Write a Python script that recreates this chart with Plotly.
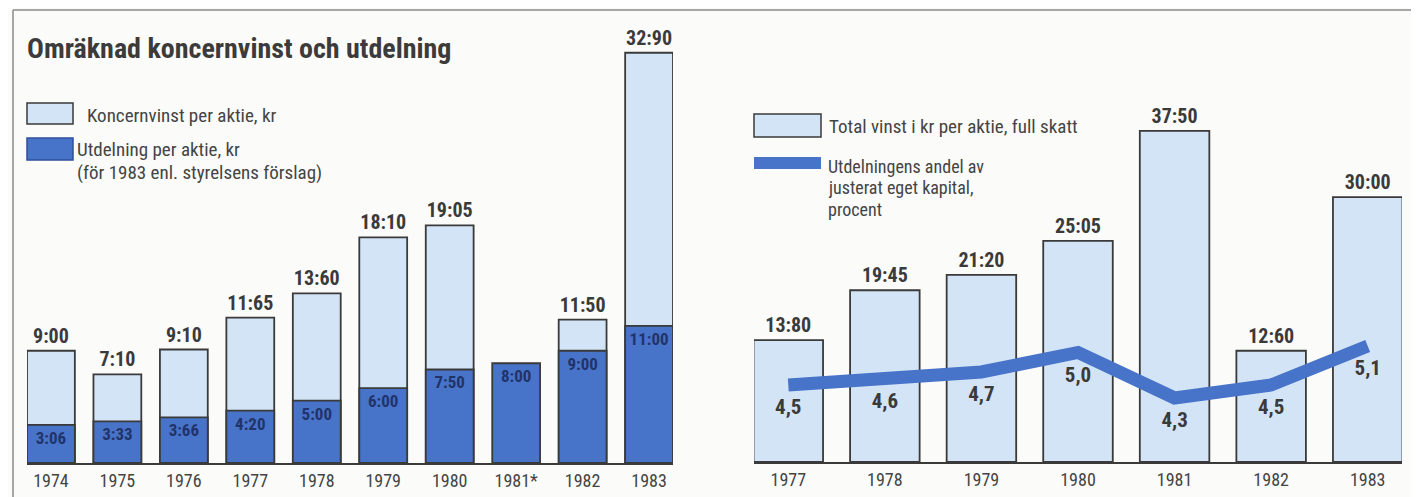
import plotly.graph_objects as go

# ---------------- data ----------------
years_left = ["1974", "1975", "1976", "1977", "1978", "1979", "1980", "1981*", "1982", "1983"]
koncernvinst = [9.00, 7.10, 9.10, 11.65, 13.60, 18.10, 19.05, None, 11.50, 32.90]
utdelning = [3.06, 3.33, 3.66, 4.20, 5.00, 6.00, 7.50, 8.00, 9.00, 11.00]

years_right = ["1977", "1978", "1979", "1980", "1981", "1982", "1983"]
total_vinst = [13.80, 19.45, 21.20, 25.05, 37.50, 12.60, 30.00]
andel = [4.5, 4.6, 4.7, 5.0, 4.3, 4.5, 5.1]

title_text = "Omräknad koncernvinst och utdelning"
leg_left_1 = ["Koncernvinst per aktie, kr"]
leg_left_2 = ["Utdelning per aktie, kr", "(för 1983 enl. styrelsens förslag)"]
leg_right_1 = ["Total vinst i kr per aktie, full skatt"]
leg_right_2 = ["Utdelningens andel av", "justerat eget kapital,", "procent"]


def kr(v):
    return "" if v is None else f"{v:.2f}".replace(".", ":")


def pct(v):
    return f"{v:.1f}".replace(".", ",")


# ---------------- styling ----------------
PAGE_OFF = 8            # default body margin of the html page
W, H = 1419 - PAGE_OFF, 497 - PAGE_OFF
FONT = "Roboto Condensed, Liberation Sans Narrow, Arial Narrow, DejaVu Sans Condensed, sans-serif"
LIGHT = "#d3e4f6"
DARK = "#4773c9"
EDGE = "#3a3a3a"
TXT = "#3a3a3a"
NAVY = "#22336a"


def px_x(p):
    return (p - PAGE_OFF) / W


def px_y(p):
    return 1 - (p - PAGE_OFF) / H


fig = go.Figure()

fig.add_trace(go.Bar(
    x=years_left, y=koncernvinst, text=[kr(v) for v in koncernvinst],
    textposition="outside", constraintext="none", cliponaxis=False, textangle=0,
    textfont=dict(family=FONT, size=20, color=TXT, weight="bold"),
    marker=dict(color=LIGHT, line=dict(color=EDGE, width=1.8)),
    xaxis="x", yaxis="y", showlegend=False, hoverinfo="skip"))

fig.add_trace(go.Bar(
    x=years_left, y=utdelning, text=[kr(v) for v in utdelning],
    textposition="inside", insidetextanchor="end", constraintext="none", textangle=0,
    textfont=dict(family=FONT, size=17, color=NAVY, weight="bold"),
    marker=dict(color=DARK, line=dict(color=EDGE, width=1.8)),
    xaxis="x", yaxis="y", showlegend=False, hoverinfo="skip"))

fig.add_trace(go.Bar(
    x=years_right, y=total_vinst, text=[kr(v) for v in total_vinst],
    textposition="outside", constraintext="none", cliponaxis=False, textangle=0,
    textfont=dict(family=FONT, size=20, color=TXT, weight="bold"),
    marker=dict(color=LIGHT, line=dict(color=EDGE, width=1.8)),
    xaxis="x2", yaxis="y2", showlegend=False, hoverinfo="skip"))

fig.add_trace(go.Scatter(
    x=years_right, y=andel, mode="lines",
    line=dict(color=DARK, width=13),
    xaxis="x2", yaxis="y3", showlegend=False, hoverinfo="skip"))

fig.add_trace(go.Scatter(
    x=years_right, y=andel, mode="markers+text", text=[pct(v) for v in andel],
    textposition="bottom center",
    marker=dict(size=20, color="rgba(0,0,0,0)"),
    textfont=dict(family=FONT, size=21, color=TXT, weight="bold"),
    xaxis="x2", yaxis="y3", showlegend=False, hoverinfo="skip", cliponaxis=False))

tickfont = dict(family=FONT, size=18, color="#444444")

fig.update_layout(
    width=W, height=H,
    margin=dict(l=0, r=0, t=0, b=0),
    paper_bgcolor="#fbfbfa", plot_bgcolor="rgba(0,0,0,0)",
    barmode="overlay", bargap=0.28,
    xaxis=dict(domain=[px_x(27), px_x(673)], range=[-0.36, 9.36], type="category",
               showline=True, linecolor=EDGE, linewidth=2, showgrid=False,
               ticks="", tickfont=tickfont, anchor="y", fixedrange=True),
    yaxis=dict(domain=[px_y(463), px_y(10)], range=[0, 453 / 12.47], visible=False,
               anchor="x", fixedrange=True),
    xaxis2=dict(domain=[px_x(754), px_x(1402)], range=[-0.355, 6.355], type="category",
                showline=True, linecolor=EDGE, linewidth=2, showgrid=False,
                ticks="", tickfont=tickfont, anchor="y2", fixedrange=True),
    yaxis2=dict(domain=[px_y(462), px_y(10)], range=[0, 452 / 8.83], visible=False,
                anchor="x2", fixedrange=True),
    yaxis3=dict(overlaying="y2", range=[3.315, 10.269], visible=False, anchor="x2",
                fixedrange=True),
)

# frame
frame = dict(color="#8a8a8a", width=1.5)
fig.add_shape(type="line", xref="paper", yref="paper", x0=px_x(13), x1=px_x(1415),
              y0=px_y(10), y1=px_y(10), line=frame)
fig.add_shape(type="line", xref="paper", yref="paper", x0=px_x(13), x1=px_x(13),
              y0=px_y(10), y1=0, line=frame)
fig.add_shape(type="line", xref="paper", yref="paper", x0=px_x(1415), x1=px_x(1415),
              y0=px_y(10), y1=0, line=frame)

# title
fig.add_annotation(xref="paper", yref="paper", x=px_x(25), y=px_y(48), xanchor="left",
                   yanchor="middle", showarrow=False, text=title_text,
                   font=dict(family=FONT, size=28, color="#3b3b3b", weight="bold"))


def legend_text(lines, x, y_first, step, size):
    for i, line in enumerate(lines):
        fig.add_annotation(xref="paper", yref="paper", x=px_x(x), y=px_y(y_first + i * step),
                           xanchor="left", yanchor="middle", showarrow=False,
                           valign="middle", borderpad=0, text=line,
                           font=dict(family=FONT, size=size, color="#444444"))


# left legend
fig.add_shape(type="rect", xref="paper", yref="paper", x0=px_x(27), x1=px_x(73),
              y0=px_y(124), y1=px_y(103), fillcolor=LIGHT, line=dict(color=EDGE, width=1.5))
fig.add_shape(type="rect", xref="paper", yref="paper", x0=px_x(27), x1=px_x(73),
              y0=px_y(160), y1=px_y(138), fillcolor=DARK, line=dict(color="#2f4f9a", width=1.5))
legend_text(leg_left_1, 86, 115, 22, 19)
legend_text(leg_left_2, 76, 150, 22.5, 19)

# right legend
fig.add_shape(type="rect", xref="paper", yref="paper", x0=px_x(754), x1=px_x(821),
              y0=px_y(137), y1=px_y(114), fillcolor=LIGHT, line=dict(color=EDGE, width=1.5))
fig.add_shape(type="rect", xref="paper", yref="paper", x0=px_x(754), x1=px_x(821),
              y0=px_y(169), y1=px_y(157), fillcolor=DARK, line=dict(width=0))
legend_text(leg_right_1, 828, 127, 22, 19)
legend_text(leg_right_2, 827, 166, 21.5, 18)

fig.write_html("out.html")
